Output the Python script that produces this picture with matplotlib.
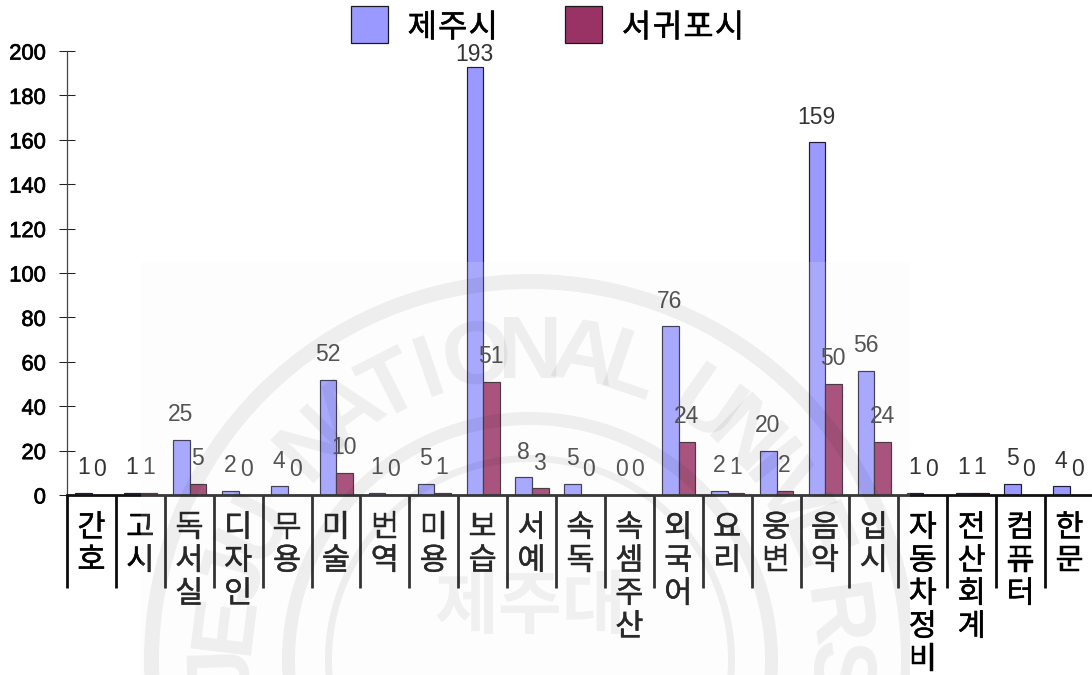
import numpy as np
import matplotlib
matplotlib.use("Agg")
import matplotlib.pyplot as plt
import matplotlib.patheffects as pe
from matplotlib.patches import Rectangle, Wedge
from matplotlib.transforms import Affine2D, Bbox

categories = ["간호", "고시", "독서실", "디자인", "무용", "미술", "번역", "미용", "보습", "서예", "속독",
              "속셈주산", "외국어", "요리", "웅변", "음악", "입시", "자동차정비", "전산회계", "컴퓨터", "한문"]
jeju = [1, 1, 25, 2, 4, 52, 1, 5, 193, 8, 5, 0, 76, 2, 20, 159, 56, 1, 1, 5, 4]
seogwipo = [0, 1, 5, 0, 0, 10, 0, 1, 51, 3, 0, 0, 24, 1, 2, 50, 24, 0, 1, 0, 0]
series_names = ["제주시", "서귀포시"]
y_ticks = [0, 20, 40, 60, 80, 100, 120, 140, 160, 180, 200]
seal_letters = ["J", "E", "J", "U", "N", "A", "T", "I", "O", "N", "A", "L", "U", "N", "I", "V", "E", "R", "S"]
seal_angles = [-92, -83, -74, -64, -45, -36, -27, -19, -10, 0, 10, 19, 35, 44, 51, 58, 67, 82, 92]

W, H = 1092, 675
KR = ["Noto Sans CJK KR", "DejaVu Sans"]
NUM = "Liberation Sans"
BLUE, MAROON = "#9999FF", "#993366"
PX = 0.72

fig = plt.figure(figsize=(W / 100, H / 100), dpi=100, facecolor="white")
pix = Affine2D().scale(1, -1).translate(0, H)

L, R, T, B = 67, 1092, 51, 495
pitch = 48.9
ax = fig.add_axes([L / W, 1 - B / H, (R - L) / W, (B - T) / H])
ax.set_xlim(-0.5, -0.5 + (R - L) / pitch)
ax.set_ylim(0, 200)
ax.patch.set_alpha(0)

x = np.arange(len(categories))
bw = 16.6 / pitch
ax.bar(x - bw / 2 + 0.01, jeju, bw, color=BLUE, edgecolor="#1c1c3a", linewidth=0.85)
ax.bar(x + bw / 2 + 0.01, seogwipo, bw, color=MAROON, edgecolor="#2a1420", linewidth=0.85)

for s in ("top", "right"):
    ax.spines[s].set_visible(False)
ax.spines["left"].set_color("#444444")
ax.spines["left"].set_linewidth(0.9)
ax.spines["bottom"].set_color("#111111")
ax.spines["bottom"].set_linewidth(2.0)

ax.set_yticks(y_ticks)
ax.set_yticklabels([])
ax.tick_params(axis="y", direction="inout", length=16 * PX, width=0.75, color="#222222")
ax.set_xticks(x - 0.5)
ax.set_xticklabels([])
ax.tick_params(axis="x", direction="out", length=93 * PX, width=2.0, color="#0c0c0c")

for v in y_ticks:
    t = ax.annotate(str(v), (0, v), xycoords=("axes fraction", "data"), xytext=(-21 * PX, -3 * PX),
                    textcoords="offset points", ha="right", va="center",
                    fontsize=15.8, family=NUM, color="black")
    t.set_path_effects([pe.withStroke(linewidth=0.5, foreground="black")])

for i, name in enumerate(categories):
    for k, ch in enumerate(name):
        t = ax.annotate(ch, (i, 0), xytext=(0, -(33 + 33.0 * k) * PX), textcoords="offset points",
                        ha="center", va="center", fontsize=22, family=KR, color="black",
                        annotation_clip=False)
        t.set_path_effects([pe.withStroke(linewidth=0.35, foreground="black")])

def value_labels(values, xs):
    for xi, v in zip(xs, values):
        yp = min(25 * PX, (198.6 - v) * (B - T) / 200 * PX)
        ax.annotate(str(v), (xi, v), xytext=(0, yp), textcoords="offset points",
                    ha="center", va="center", fontsize=16.5, family=NUM, color="#333333",
                    annotation_clip=False)

value_labels(jeju, x - bw / 2)
value_labels(seogwipo, x + bw / 2)

# legend
for (bx, tx, col, name, sp) in [(351, 407, BLUE, series_names[0], 30.5), (565, 621, MAROON, series_names[1], 31.0)]:
    fig.add_artist(Rectangle((bx, 6), 37, 37, facecolor=col, edgecolor="#1a1a1a", linewidth=0.9, transform=pix))
    for k, ch in enumerate(name):
        t = fig.text(tx + sp * (k + 0.5), 28, ch, transform=pix, ha="center", va="center",
                     fontsize=23, family=KR, color="black")
        t.set_path_effects([pe.withStroke(linewidth=0.35, foreground="black")])

# scanned seal watermark laid over the chart
wx0, wx1, wy0 = 141, 910, 262
fig.add_artist(Rectangle((wx0, wy0), wx1 - wx0, H - wy0, facecolor="white", alpha=0.17,
                         edgecolor="none", transform=pix, zorder=5))
fig.add_artist(Rectangle((wx0, wy0), wx1 - wx0, H - wy0, facecolor="black", alpha=0.008,
                         edgecolor="none", transform=pix, zorder=5))
clip = Bbox([[wx0, 0], [wx1, H - wy0]])
GR = "#000000"
cx, cy = 530, 660
for r, w in [(386, 15), (248, 13), (205, 7)]:
    p = Wedge((cx, cy), r, 0, 360, width=w, facecolor=GR, alpha=0.06, edgecolor="none", transform=pix, zorder=6)
    fig.add_artist(p)
    p.set_clip_box(clip)
for ch, a in zip(seal_letters, seal_angles):
    rad = np.deg2rad(a)
    t = fig.text(cx + 305 * np.sin(rad), cy - 305 * np.cos(rad), ch, transform=pix, rotation=-a,
                 rotation_mode="anchor", ha="center", va="center", fontsize=64, family=NUM,
                 fontweight="bold", color=GR, alpha=0.06, zorder=6)
    t.set_clip_box(clip)
    t.set_clip_on(True)
t = fig.text(cx, 608, "제주대", transform=pix, ha="center", va="center", fontsize=50, family=KR,
             fontweight="bold", color=GR, alpha=0.05, zorder=6)

fig.savefig("out.png", dpi=100, facecolor="white")
